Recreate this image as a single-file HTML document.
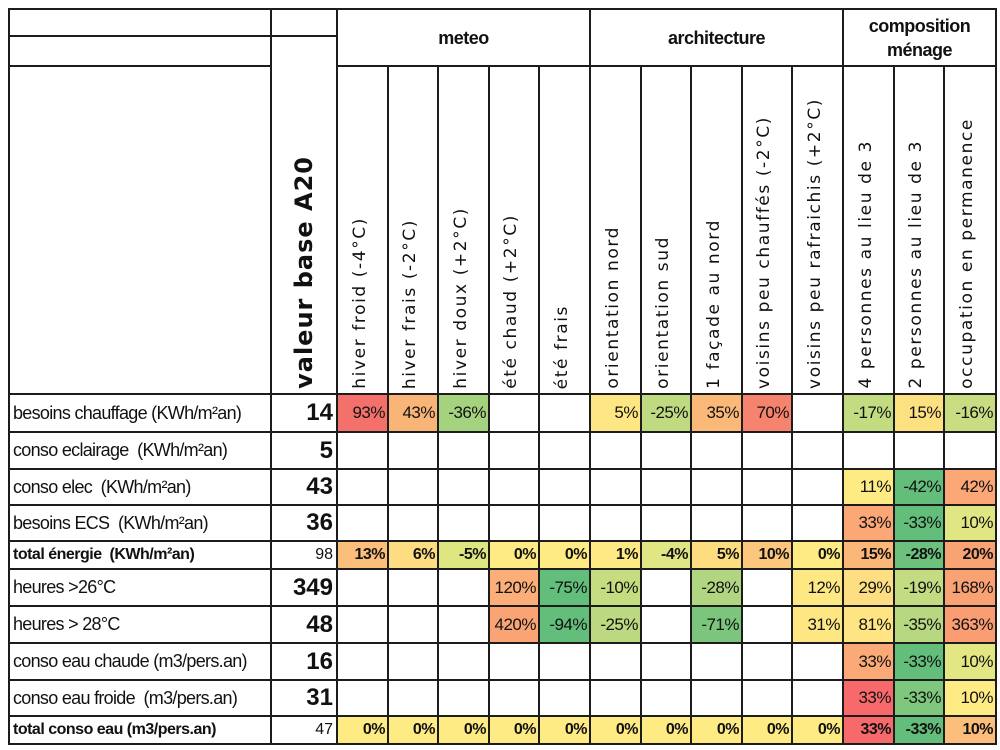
<!DOCTYPE html>
<html><head><meta charset="utf-8"><style>
body{margin:0;background:#fff;width:1000px;height:750px;overflow:hidden;}
table{position:absolute;left:8px;top:8px;border-collapse:collapse;table-layout:fixed;font-family:"Liberation Sans Narrow","Liberation Sans",sans-serif;color:#111;}
td{border:2px solid #1c1c1c;padding:0;overflow:hidden;white-space:nowrap;}
.grp{font-weight:bold;font-size:18px;text-align:center;vertical-align:middle;line-height:24px;letter-spacing:-0.5px;}
.rot{vertical-align:bottom;text-align:center;}
.rot div{writing-mode:vertical-rl;transform:rotate(180deg);font-family:"DejaVu Sans",sans-serif;font-size:17px;letter-spacing:1.6px;margin:0 auto 4px auto;padding-left:6px;}
.lab{font-size:18px;padding-left:3px;letter-spacing:-0.7px;}
.base{font-size:24px;font-weight:bold;text-align:right;padding-right:3px;}
.v{font-size:17px;text-align:right;padding-right:2px;letter-spacing:-0.5px;}
.tot td{font-weight:bold;font-size:15px;}
.tot .lab{font-size:16px;letter-spacing:-0.5px;}
.tot .base{font-size:16px;font-weight:normal;}
.tot .v{font-size:16px;}
</style></head><body>
<table>
<colgroup><col style="width:262px"><col style="width:66px">
<col style="width:51px"><col style="width:50px"><col style="width:51px"><col style="width:50px"><col style="width:51px">
<col style="width:51px"><col style="width:50px"><col style="width:51px"><col style="width:50px"><col style="width:51px">
<col style="width:51px"><col style="width:50px"><col style="width:52px"></colgroup>
<tr style="height:27px"><td></td><td></td><td class="grp" colspan="5" rowspan="2">meteo</td><td class="grp" colspan="5" rowspan="2">architecture</td><td class="grp" colspan="3" rowspan="2">composition<br>ménage</td></tr>
<tr style="height:30px"><td></td><td rowspan="2" class="rot"><div style="font-weight:bold;font-size:24px;letter-spacing:1px;padding-left:0">valeur base A20</div></td></tr>
<tr style="height:328px"><td></td>
<td class="rot"><div>hiver froid (-4°C)</div></td>
<td class="rot"><div>hiver frais (-2°C)</div></td>
<td class="rot"><div>hiver doux (+2°C)</div></td>
<td class="rot"><div>été chaud (+2°C)</div></td>
<td class="rot"><div>été frais</div></td>
<td class="rot"><div>orientation nord</div></td>
<td class="rot"><div>orientation sud</div></td>
<td class="rot"><div>1 façade au nord</div></td>
<td class="rot"><div>voisins peu chauffés (-2°C)</div></td>
<td class="rot"><div>voisins peu rafraichis (+2°C)</div></td>
<td class="rot"><div>4 personnes au lieu de 3</div></td>
<td class="rot"><div>2 personnes au lieu de 3</div></td>
<td class="rot"><div>occupation en permanence</div></td></tr>
<tr style="height:38px"><td class="lab">besoins chauffage (KWh/m²an)</td><td class="base">14</td>
<td class="v" style="background:#f4706b">93%</td><td class="v" style="background:#f9b477">43%</td><td class="v" style="background:#a5d27f">-36%</td><td></td><td></td>
<td class="v" style="background:#fde683">5%</td><td class="v" style="background:#c0da81">-25%</td><td class="v" style="background:#fbb979">35%</td><td class="v" style="background:#f6836d">70%</td><td></td>
<td class="v" style="background:#c4dc81">-17%</td><td class="v" style="background:#fde080">15%</td><td class="v" style="background:#c8dd81">-16%</td></tr>
<tr style="height:37px"><td class="lab">conso eclairage&nbsp; (KWh/m²an)</td><td class="base">5</td><td></td><td></td><td></td><td></td><td></td><td></td><td></td><td></td><td></td><td></td><td></td><td></td><td></td></tr>
<tr style="height:36px"><td class="lab">conso elec&nbsp; (KWh/m²an)</td><td class="base">43</td><td></td><td></td><td></td><td></td><td></td><td></td><td></td><td></td><td></td><td></td>
<td class="v" style="background:#feeb84">11%</td><td class="v" style="background:#63be7b">-42%</td><td class="v" style="background:#fba776">42%</td></tr>
<tr style="height:36px"><td class="lab">besoins ECS&nbsp; (KWh/m²an)</td><td class="base">36</td><td></td><td></td><td></td><td></td><td></td><td></td><td></td><td></td><td></td><td></td>
<td class="v" style="background:#fba776">33%</td><td class="v" style="background:#63be7b">-33%</td><td class="v" style="background:#e0e683">10%</td></tr>
<tr style="height:28px" class="tot"><td class="lab">total énergie&nbsp; (KWh/m²an)</td><td class="base">98</td>
<td class="v" style="background:#fbbf7b">13%</td><td class="v" style="background:#fedc81">6%</td><td class="v" style="background:#dee682">-5%</td><td class="v" style="background:#ffeb84">0%</td><td class="v" style="background:#ffeb84">0%</td>
<td class="v" style="background:#ffe984">1%</td><td class="v" style="background:#e0e683">-4%</td><td class="v" style="background:#fedd81">5%</td><td class="v" style="background:#fcc77c">10%</td><td class="v" style="background:#ffeb84">0%</td>
<td class="v" style="background:#fbb778">15%</td><td class="v" style="background:#6cc17c">-28%</td><td class="v" style="background:#f9a273">20%</td></tr>
<tr style="height:37px"><td class="lab">heures &gt;26°C</td><td class="base">349</td><td></td><td></td><td></td>
<td class="v" style="background:#fbae78">120%</td><td class="v" style="background:#63be7b">-75%</td><td class="v" style="background:#c6dc81">-10%</td><td></td><td class="v" style="background:#b1d580">-28%</td><td></td><td class="v" style="background:#fee883">12%</td>
<td class="v" style="background:#fede82">29%</td><td class="v" style="background:#c3db81">-19%</td><td class="v" style="background:#f9a273">168%</td></tr>
<tr style="height:37px"><td class="lab">heures &gt; 28°C</td><td class="base">48</td><td></td><td></td><td></td>
<td class="v" style="background:#faa475">420%</td><td class="v" style="background:#63be7b">-94%</td><td class="v" style="background:#bcd981">-25%</td><td></td><td class="v" style="background:#7bc67c">-71%</td><td></td><td class="v" style="background:#fee683">31%</td>
<td class="v" style="background:#fee483">81%</td><td class="v" style="background:#b7d780">-35%</td><td class="v" style="background:#fa9d73">363%</td></tr>
<tr style="height:37px"><td class="lab">conso eau chaude (m3/pers.an)</td><td class="base">16</td><td></td><td></td><td></td><td></td><td></td><td></td><td></td><td></td><td></td><td></td>
<td class="v" style="background:#fbaa77">33%</td><td class="v" style="background:#63be7b">-33%</td><td class="v" style="background:#e3e783">10%</td></tr>
<tr style="height:36px"><td class="lab">conso eau froide&nbsp; (m3/pers.an)</td><td class="base">31</td><td></td><td></td><td></td><td></td><td></td><td></td><td></td><td></td><td></td><td></td>
<td class="v" style="background:#f8696b">33%</td><td class="v" style="background:#7ec77c">-33%</td><td class="v" style="background:#ffeb84">10%</td></tr>
<tr style="height:28px" class="tot"><td class="lab">total conso eau (m3/pers.an)</td><td class="base">47</td>
<td class="v" style="background:#ffeb84">0%</td><td class="v" style="background:#ffeb84">0%</td><td class="v" style="background:#ffeb84">0%</td><td class="v" style="background:#ffeb84">0%</td><td class="v" style="background:#ffeb84">0%</td>
<td class="v" style="background:#ffeb84">0%</td><td class="v" style="background:#ffeb84">0%</td><td class="v" style="background:#ffeb84">0%</td><td class="v" style="background:#ffeb84">0%</td><td class="v" style="background:#ffeb84">0%</td>
<td class="v" style="background:#f8696b">33%</td><td class="v" style="background:#63be7b">-33%</td><td class="v" style="background:#fbbe7b">10%</td></tr>
</table>
</body></html>
